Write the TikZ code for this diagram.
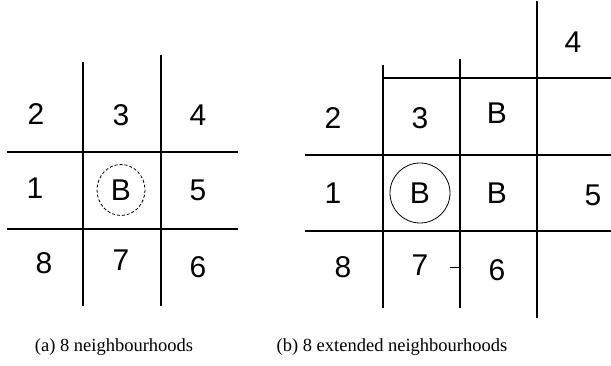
\documentclass[tikz,border=0pt]{standalone}
\usepackage{fontspec}
\setmainfont{Liberation Serif}
\newfontfamily\cellfont{Liberation Sans}

\begin{document}
\begin{tikzpicture}[x=1pt, y=-1pt, grid/.style={line width=1.2pt}, cell/.style={font=\cellfont\fontsize{30}{34}\selectfont, inner sep=0pt}, ring/.style={draw, line width=0.8pt}, caption/.style={font=\fontsize{18.5}{22}\selectfont, inner sep=0pt}]

\useasboundingbox (0,0) rectangle (611,366);

% (a) 8 neighbourhoods
\coordinate (a1t) at (83,62); \coordinate (a1b) at (83,306);
\coordinate (a2t) at (161,55); \coordinate (a2b) at (161,306);
\coordinate (h1l) at (7,152); \coordinate (h1r) at (238,152);
\coordinate (h2l) at (7,229); \coordinate (h2r) at (238,229);
\draw[grid] (a1t) -- (a1b);
\draw[grid] (a2t) -- (a2b);
\draw[grid] (h1l) -- (h1r);
\draw[grid] (h2l) -- (h2r);
\node[cell] (a2) at (36,114) {2};
\node[cell] (a3) at (121,115) {3};
\node[cell] (a4) at (198,115) {4};
\node[cell] (a1) at (35,188) {1};
\node[cell] (aB) at (121,190) {B};
\node[cell] (a5) at (198,190) {5};
\node[cell] (a8) at (44,263) {8};
\node[cell] (a7) at (121,260) {7};
\node[cell] (a6) at (198,267) {6};
\draw[ring, densely dashed] (aB) ellipse (24 and 25.5);

% (b) 8 extended neighbourhoods
\coordinate (b1t) at (383,65); \coordinate (b1b) at (383,308);
\coordinate (b2t) at (460,59); \coordinate (b2b) at (460,308);
\coordinate (b3t) at (537,1); \coordinate (b3b) at (537,318);
\coordinate (g0l) at (383,78); \coordinate (g0r) at (611,78);
\coordinate (g1l) at (305,155); \coordinate (g1r) at (611,155);
\coordinate (g2l) at (305,231); \coordinate (g2r) at (611,231);
\coordinate (tick) at (450,267);
\draw[grid] (b1t) -- (b1b);
\draw[grid] (b2t) -- (b2b);
\draw[grid] (b3t) -- (b3b);
\draw[grid] (g0l) -- (g0r);
\draw[grid] (g1l) -- (g1r);
\draw[grid] (g2l) -- (g2r);
\draw[line width=0.8pt] (tick) -- (tick -| b2t);
\node[cell] (b4) at (573,42) {4};
\node[cell] (b2) at (333,118) {2};
\node[cell] (b3) at (420,118) {3};
\node[cell] (bB3) at (497,113) {B};
\node[cell] (b1) at (333,193) {1};
\node[cell] (bB) at (420,193) {B};
\node[cell] (bB5) at (497,193) {B};
\node[cell] (b5) at (593,195) {5};
\node[cell] (b8) at (343,267) {8};
\node[cell] (b7) at (420,265) {7};
\node[cell] (b6) at (497,270) {6};
\draw[ring] (bB) circle (30);

\node[caption] (capa) at (114,347) {(a) 8 neighbourhoods};
\node[caption] (capb) at (392,347) {(b) 8 extended neighbourhoods};
\end{tikzpicture}
\end{document}
